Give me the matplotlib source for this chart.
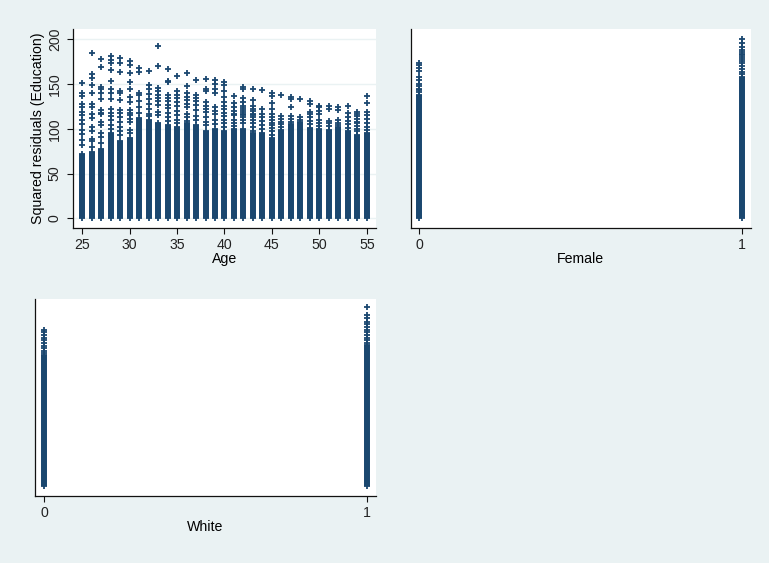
import matplotlib as mpl
import matplotlib.pyplot as plt

mpl.use('Agg')

# squared residuals by age: top of the solid column and the scattered points above it
age = list(range(25, 56))
age_solid = [72, 74, 78, 95, 86, 90, 112, 110, 106, 104, 102, 106, 104, 98, 100, 98,
             100, 100, 95, 95, 90, 97, 105, 108, 101, 100, 99, 102, 97, 93, 95]
age_upper = [
    [151, 140, 137, 128, 124, 119, 115, 110, 105, 99, 94, 88, 82],
    [185, 161, 157, 149, 140, 128, 124, 117, 112, 102, 98, 89, 86, 80],
    [178, 169, 147, 144, 140, 133, 121, 118, 116, 108, 104, 95, 91, 84],
    [181, 177, 174, 166, 153, 145, 140, 133, 122, 118, 114, 110, 104, 100],
    [179, 174, 164, 142, 140, 132, 121, 118, 113, 108, 102, 98, 93],
    [176, 171, 162, 152, 144, 136, 130, 121, 118, 115, 111, 108, 99, 95],
    [168, 163, 140, 138, 131, 124, 118],
    [165, 149, 144, 139, 133, 128, 122, 117, 114],
    [193, 170, 146, 142, 138, 134, 131, 127, 119, 115],
    [167, 153, 152, 138, 134, 131, 127, 123, 118, 113, 109],
    [159, 142, 138, 134, 130, 126, 120, 115, 110, 106],
    [162, 148, 140, 136, 132, 128, 124, 117, 113, 109],
    [154, 138, 134, 131, 127, 121, 114, 110],
    [156, 144, 142, 130, 126, 122, 119, 113, 108, 104],
    [154, 150, 144, 140, 124, 120, 116, 110, 105],
    [152, 149, 142, 136, 130, 126, 122, 118, 114, 110, 106, 102],
    [137, 129, 124, 120, 117, 115, 110, 106, 103],
    [147, 144, 134, 130, 126, 123, 121, 119, 117, 115, 113, 110, 106],
    [145, 132, 126, 122, 120, 117, 115, 113, 110, 106, 102, 98],
    [143, 122, 117, 113, 109, 104, 100],
    [140, 137, 129, 122, 116, 113, 110, 107, 104, 101, 97, 93],
    [138, 114, 111, 108, 105, 102, 99],
    [136, 133, 124, 114, 111, 108],
    [133, 113, 110],
    [131, 128, 119, 116, 113, 109, 105],
    [126, 124, 120, 116, 110, 106, 103],
    [126, 122, 109, 106, 103],
    [124, 121, 110, 107, 104],
    [125, 118, 113, 109, 105, 101],
    [119, 117, 114, 111, 108, 106, 103, 100, 97],
    [137, 129, 119, 115, 111, 106, 102, 99],
]

female = [0, 1]
female_solid = [138, 158]
female_upper = [
    [174, 171, 168, 165, 158, 155, 150, 148, 145, 143, 141],
    [200, 196, 191, 188, 186, 184, 182, 180, 178, 176, 173, 170, 167, 164, 161],
]

white = [0, 1]
white_solid = [148, 160]
white_upper = [
    [177, 174, 171, 168, 165, 162, 159, 156, 153, 151],
    [202, 194, 190, 186, 183, 180, 177, 174, 171, 168, 165, 162],
]

navy = '#1a476f'
bg = '#eaf2f3'

plt.rcParams['font.family'] = ['Liberation Sans', 'DejaVu Sans']
plt.rcParams['font.size'] = 10.2
plt.rcParams['text.color'] = '#222222'
plt.rcParams['xtick.color'] = '#111111'
plt.rcParams['ytick.color'] = '#111111'


def columns(ax, xs, solid, upper):
    ax.vlines(xs, 0, solid, colors=navy, linewidth=4.3, zorder=3)
    for x, top, pts in zip(xs, solid, upper):
        ys = [0, top] + pts
        ax.plot([x] * len(ys), ys, linestyle='none', marker='+', color=navy,
                markersize=5, markeredgewidth=1.3, zorder=4)


def style(ax, xlim, xticks, xlabel, show_y):
    ax.set_facecolor('white')
    ax.set_xlim(*xlim)
    ax.set_ylim(-10.8, 211.5)
    ax.spines['top'].set_visible(False)
    ax.spines['right'].set_visible(False)
    for s in ('left', 'bottom'):
        ax.spines[s].set_linewidth(0.9)
        ax.spines[s].set_color('#111111')
    ax.set_xticks(xticks)
    ax.tick_params(axis='x', length=4, width=0.8, pad=3, labelcolor='#222222')
    ax.set_xlabel(xlabel, labelpad=0)
    if show_y:
        ax.set_yticks([0, 50, 100, 150, 200])
        ax.tick_params(axis='y', length=4, width=0.8, pad=4, labelcolor='#222222')
        for lab in ax.get_yticklabels():
            lab.set_rotation(90)
            lab.set_va('center')
        ax.grid(axis='y', color=bg, linewidth=1.0, zorder=0)
        ax.set_axisbelow(True)
    else:
        ax.set_yticks([])


fig = plt.figure(figsize=(7.69, 5.63), dpi=100, facecolor=bg)

ax1 = fig.add_axes([73 / 769, 1 - 228 / 563, 303 / 769, 199 / 563])
columns(ax1, age, age_solid, age_upper)
style(ax1, (24.05, 55.95), [25, 30, 35, 40, 45, 50, 55], 'Age', True)
ax1.set_ylabel('Squared residuals (Education)', labelpad=2)

ax2 = fig.add_axes([410.7 / 769, 1 - 228 / 563, 340.3 / 769, 199 / 563])
columns(ax2, female, female_solid, female_upper)
style(ax2, (-0.0257, 1.0279), [0, 1], 'Female', False)

ax3 = fig.add_axes([35 / 769, 1 - 496 / 563, 341 / 769, 197 / 563])
columns(ax3, white, white_solid, white_upper)
style(ax3, (-0.0279, 1.0279), [0, 1], 'White', False)

fig.savefig('out.png', dpi=100, facecolor=bg)
